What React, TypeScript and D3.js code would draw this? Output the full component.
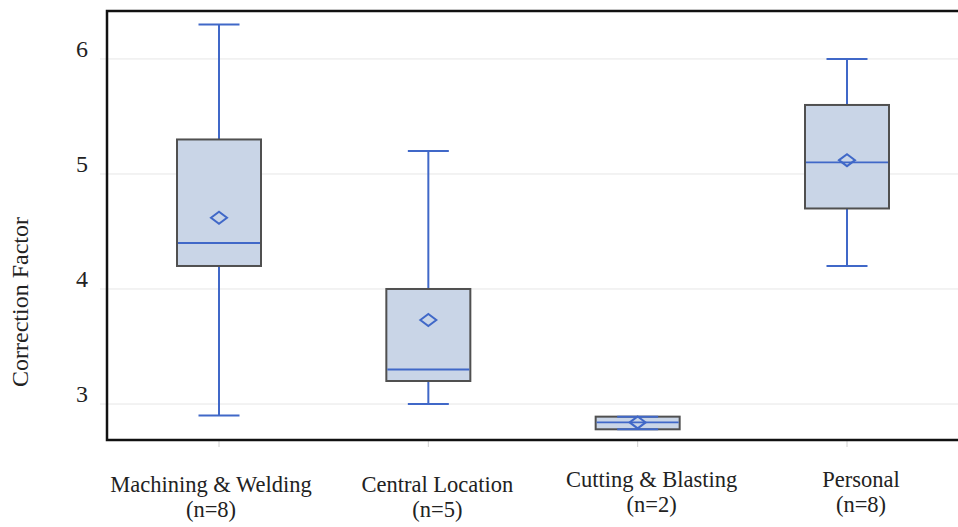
import React, { useEffect, useRef } from 'react';
import * as d3 from 'd3';

// box plot summary per location
const categories = ['Machining & Welding', 'Central Location', 'Cutting & Blasting', 'Personal'];
const counts = [8, 5, 2, 8];
const mins = [2.9, 3.0, 2.78, 4.2];
const q1s = [4.2, 3.2, 2.78, 4.7];
const medians = [4.4, 3.3, 2.84, 5.1];
const q3s = [5.3, 4.0, 2.89, 5.6];
const maxs = [6.3, 5.2, 2.89, 6.0];
const means = [4.62, 3.73, 2.84, 5.12];
const yTicks = [3, 4, 5, 6];

const App = () => {
  const svgRef = useRef(null);

  useEffect(() => {
    if (!svgRef.current) return;
    const svg = d3.select(svgRef.current);
    svg.selectAll('*').remove();

    const width = 958;
    const height = 527;
    const frame = { left: 107, top: 11, right: 960, bottom: 440 };
    const font = '"Liberation Serif", "Times New Roman", serif';
    const blue = '#4068c8';

    svg.attr('width', width).attr('height', height);

    const y = d3.scaleLinear()
      .domain([2.687, 6.417])
      .range([frame.bottom, frame.top]);

    const x = d3.scalePoint()
      .domain(categories)
      .range([219, 847]);

    // grid lines + left ticks
    svg.append('g')
      .selectAll('line')
      .data(yTicks)
      .join('line')
      .attr('x1', frame.left - 7)
      .attr('x2', frame.right)
      .attr('y1', d => y(d))
      .attr('y2', d => y(d))
      .attr('stroke', '#e6e6e6')
      .attr('stroke-width', 1);

    svg.append('g')
      .selectAll('text')
      .data(yTicks)
      .join('text')
      .attr('x', 88)
      .attr('y', d => y(d) - 2)
      .attr('text-anchor', 'end')
      .style('font-family', font)
      .style('font-size', '24px')
      .attr('fill', '#222')
      .text(d => d);

    // bottom ticks
    svg.append('g')
      .selectAll('line')
      .data(categories)
      .join('line')
      .attr('x1', d => x(d))
      .attr('x2', d => x(d))
      .attr('y1', frame.bottom)
      .attr('y2', frame.bottom + 7)
      .attr('stroke', '#d0d0d0');

    const boxHalf = 42;
    const capHalf = 20.5;

    const g = svg.append('g')
      .selectAll('g')
      .data(categories)
      .join('g')
      .attr('transform', d => `translate(${x(d)},0)`);

    // whiskers
    g.append('line')
      .attr('x1', 0).attr('x2', 0)
      .attr('y1', (d, i) => y(maxs[i]))
      .attr('y2', (d, i) => y(q3s[i]))
      .attr('stroke', blue).attr('stroke-width', 2);
    g.append('line')
      .attr('x1', 0).attr('x2', 0)
      .attr('y1', (d, i) => y(q1s[i]))
      .attr('y2', (d, i) => y(mins[i]))
      .attr('stroke', blue).attr('stroke-width', 2);

    // box
    g.append('rect')
      .attr('x', -boxHalf)
      .attr('width', boxHalf * 2)
      .attr('y', (d, i) => y(q3s[i]))
      .attr('height', (d, i) => y(q1s[i]) - y(q3s[i]))
      .attr('fill', '#c9d5e7')
      .attr('stroke', '#505050')
      .attr('stroke-width', 2);

    // caps
    g.append('line')
      .attr('x1', -capHalf).attr('x2', capHalf)
      .attr('y1', (d, i) => y(maxs[i]))
      .attr('y2', (d, i) => y(maxs[i]))
      .attr('stroke', blue).attr('stroke-width', 2);
    g.append('line')
      .attr('x1', -capHalf).attr('x2', capHalf)
      .attr('y1', (d, i) => y(mins[i]))
      .attr('y2', (d, i) => y(mins[i]))
      .attr('stroke', blue).attr('stroke-width', 2);

    // median
    g.append('line')
      .attr('x1', -boxHalf + 1).attr('x2', boxHalf - 1)
      .attr('y1', (d, i) => y(medians[i]))
      .attr('y2', (d, i) => y(medians[i]))
      .attr('stroke', blue).attr('stroke-width', 1.8);

    // mean diamond
    g.append('path')
      .attr('d', (d, i) => {
        const cy = y(means[i]);
        return `M-8,${cy}L0,${cy - 6}L8,${cy}L0,${cy + 6}Z`;
      })
      .attr('fill', 'none')
      .attr('stroke', blue)
      .attr('stroke-width', 2);

    // frame
    svg.append('path')
      .attr('d', `M${frame.right},${frame.top}H${frame.left}V${frame.bottom}H${frame.right}`)
      .attr('fill', 'none')
      .attr('stroke', '#111')
      .attr('stroke-width', 2.5);

    // category labels (in the figure they sit a little off their ticks)
    const labelShift = [-8, 9, 14, 14];
    const labels = svg.append('g')
      .selectAll('text')
      .data(categories)
      .join('text')
      .attr('text-anchor', 'middle')
      .attr('transform', (d, i) => `translate(${x(d) + labelShift[i]},${i >= 2 ? 487 : 492})`)
      .style('font-family', font)
      .style('font-size', '22.5px')
      .attr('fill', '#222');
    labels.append('tspan').attr('x', 0).attr('y', 0).text(d => d);
    labels.append('tspan').attr('x', 0).attr('y', 25).text((d, i) => `(n=${counts[i]})`);

    // y axis title
    svg.append('text')
      .attr('transform', 'translate(28,302) rotate(-90)')
      .attr('text-anchor', 'middle')
      .style('font-family', font)
      .style('font-size', '24px')
      .attr('fill', '#222')
      .text('Correction Factor');
  }, []);

  return <svg ref={svgRef} style={{ position: 'absolute', left: 0, top: 0 }}></svg>;
};

export default App;
